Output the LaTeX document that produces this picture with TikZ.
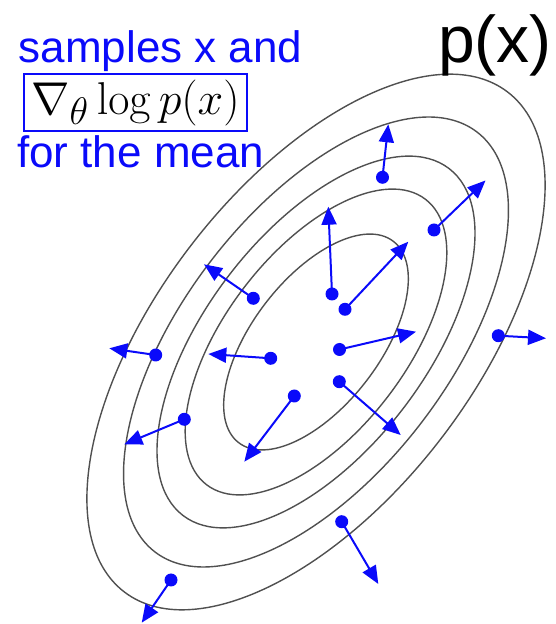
\documentclass[tikz,border=0pt]{standalone}
\usepackage{graphicx}
\usepackage[no-math]{fontspec}
\setmainfont{Liberation Sans}
\usetikzlibrary{arrows.meta}
\definecolor{pblue}{RGB}{10,10,250}
\definecolor{cgray}{RGB}{80,80,80}
\begin{document}
\begin{tikzpicture}[x=1pt,y=1pt,
  contour/.style={draw=cgray, line width=1.4pt},
  sample/.style={circle, fill=pblue, inner sep=0pt, minimum size=13pt},
  grad/.style={draw=pblue, line width=2pt, -{Triangle[length=18pt,width=15pt]}},
  bluetext/.style={text=pblue, font=\fontsize{44}{50}\selectfont, inner sep=0pt, anchor=base west}]
\useasboundingbox (0,0) rectangle (556,624);
% contours
\foreach \s in {1,0.84,0.694,0.571,0.403}
  \draw[contour, shift={(316,282)}, rotate=52.5] (0,0) ellipse [x radius=315*\s, y radius=158*\s];
% samples and gradients
\node[sample] (d1) at (382.5,446.7) {};  \coordinate (t1) at (388.3,499.7);
\node[sample] (d2) at (434,394) {};      \coordinate (t2) at (485.5,443.5);
\node[sample] (d3) at (332,330) {};      \coordinate (t3) at (328.3,417.3);
\node[sample] (d4) at (345,314.7) {};    \coordinate (t4) at (408.3,382.3);
\node[sample] (d5) at (253.3,325.7) {};  \coordinate (t5) at (204,359.7);
\node[sample] (d6) at (155.7,269) {};    \coordinate (t6) at (109.3,275.7);
\node[sample] (d7) at (270.7,265.7) {};  \coordinate (t7) at (208.3,270);
\node[sample] (d8) at (339.5,274.5) {};  \coordinate (t8) at (416,292.3);
\node[sample] (d9) at (339.3,242.3) {};  \coordinate (t9) at (400.7,189);
\node[sample] (d10) at (498.3,288.3) {}; \coordinate (t10) at (546,285.7);
\node[sample] (d11) at (184.3,204.7) {}; \coordinate (t11) at (124.3,179.7);
\node[sample] (d12) at (294.3,228) {};   \coordinate (t12) at (244.3,162.3);
\node[sample] (d13) at (341.7,102.3) {}; \coordinate (t13) at (378.3,40);
\node[sample] (d14) at (171,44) {};      \coordinate (t14) at (141.7,1.3);
\foreach \i in {1,...,14}
  \draw[grad] (d\i.center) -- (t\i);
% texts
\node[bluetext] (s1) at (18.5,561) {samples x and};
\node[draw=pblue, line width=1.5pt, minimum width=223pt, minimum height=57pt, inner sep=0pt] (f) at (135.5,521.5)
  {\scalebox{1.85}{\Huge$\nabla_\theta \log p(x)$}};
\node[bluetext] (s3) at (17,456) {for the mean};
\node[anchor=base west, inner sep=0pt, font=\fontsize{66}{72}\selectfont] (px) at (438,561) {p(x)};
\end{tikzpicture}
\end{document}
